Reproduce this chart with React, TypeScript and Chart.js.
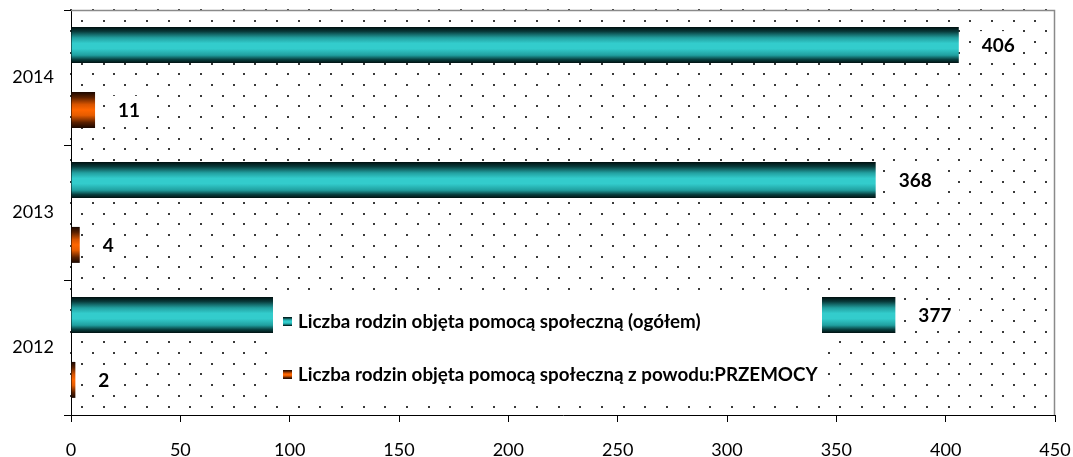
import React, { useEffect, useRef } from 'react';
import { Chart, registerables } from 'chart.js';

Chart.register(...registerables);

const categories = ['2014', '2013', '2012'];
const totalFamilies = [406, 368, 377];
const violenceFamilies = [11, 4, 2];
const seriesLabels = [
  'Liczba rodzin objęta pomocą społeczną (ogółem)',
  'Liczba rodzin objęta pomocą społeczną z powodu:PRZEMOCY',
];
const xMin = 0;
const xMax = 450;
const xStep = 50;

const CAT_PCT = 0.96;
const BAR_PCT = 0.555;
const FONT = 'Lato, "Noto Sans", sans-serif';

const tealStops: [number, string][] = [
  [0, '#001010'],
  [0.12, '#083a3a'],
  [0.3, '#22a0a0'],
  [0.45, '#33cccc'],
  [0.6, '#33cccc'],
  [0.78, '#20a0a0'],
  [0.9, '#084040'],
  [1, '#001010'],
];
const orangeStops: [number, string][] = [
  [0, '#1a0700'],
  [0.15, '#5a2000'],
  [0.35, '#d85400'],
  [0.5, '#ff6600'],
  [0.65, '#e65c00'],
  [0.85, '#5a2000'],
  [1, '#1a0700'],
];

function makeGradient(c: CanvasRenderingContext2D, y0: number, y1: number, stops: [number, string][]) {
  const g = c.createLinearGradient(0, y0, 0, y1);
  stops.forEach(([o, col]) => g.addColorStop(o, col));
  return g;
}

function barFill(stops: [number, string][], fallback: string) {
  return (ctx: any) => {
    const chart = ctx.chart;
    const y = chart.scales && chart.scales.y;
    if (!y || !chart.chartArea || ctx.dataIndex === undefined) return fallback;
    const band = y.getPixelForValue(1) - y.getPixelForValue(0);
    const slot = (band * CAT_PCT) / 2;
    const center = y.getPixelForValue(ctx.dataIndex) + (ctx.datasetIndex - 0.5) * slot;
    const half = (slot * BAR_PCT) / 2;
    return makeGradient(chart.ctx, center - half, center + half, stops);
  };
}

const backgroundPlugin = {
  id: 'dotBackground',
  beforeDraw(chart: any) {
    const { ctx, chartArea } = chart;
    if (!chartArea) return;
    const { left, top, right, bottom } = chartArea;
    ctx.save();
    ctx.fillStyle = '#ffffff';
    ctx.fillRect(left, top, right - left, bottom - top);
    ctx.fillStyle = '#3a3a3a';
    const dx = 21.67;
    const dy = 10.72;
    for (let k = 0; top + k * dy < bottom; k++) {
      const yy = top + k * dy;
      const off = k % 2 === 0 ? 0 : dx / 2;
      for (let x = left + off; x < right; x += dx) {
        ctx.fillRect(Math.round(x) - 1, Math.round(yy) - 1, 2, 2);
      }
    }
    ctx.restore();
  },
  afterDraw(chart: any) {
    const { ctx, chartArea } = chart;
    const { left, top, right, bottom } = chartArea;
    ctx.save();
    ctx.strokeStyle = '#8a8a8a';
    ctx.lineWidth = 1.5;
    ctx.beginPath();
    ctx.moveTo(left, top + 0.5);
    ctx.lineTo(right - 0.5, top + 0.5);
    ctx.lineTo(right - 0.5, bottom);
    ctx.stroke();
    ctx.restore();
  },
};

const labelPlugin = {
  id: 'valueLabels',
  afterDatasetsDraw(chart: any) {
    const ctx = chart.ctx;
    ctx.save();
    ctx.font = `bold 19px ${FONT}`;
    ctx.textBaseline = 'middle';
    ctx.textAlign = 'left';
    chart.data.datasets.forEach((ds: any, di: number) => {
      const meta = chart.getDatasetMeta(di);
      meta.data.forEach((bar: any, i: number) => {
        const text = String(ds.data[i]);
        const x = bar.x + 23;
        const w = ctx.measureText(text).width;
        ctx.fillStyle = '#ffffff';
        ctx.fillRect(x - 8, bar.y - 14, w + 16, 28);
        ctx.fillStyle = '#000000';
        ctx.fillText(text, x, bar.y + 1);
      });
    });
    ctx.restore();
  },
};

const legendPlugin = {
  id: 'boxLegend',
  afterDatasetsDraw(chart: any) {
    const ctx = chart.ctx;
    ctx.save();
    ctx.fillStyle = '#ffffff';
    ctx.fillRect(273, 294, 549, 106);
    ctx.font = `bold 16px ${FONT}`;
    const targetW = 520;
    const mw = ctx.measureText(seriesLabels[1]).width;
    const size = 16 * (targetW / mw);
    ctx.font = `bold ${size.toFixed(2)}px ${FONT}`;
    ctx.textBaseline = 'middle';
    ctx.textAlign = 'left';
    const rows = [
      { y: 322, stops: tealStops, text: seriesLabels[0] },
      { y: 375, stops: orangeStops, text: seriesLabels[1] },
    ];
    rows.forEach((r) => {
      ctx.fillStyle = makeGradient(ctx, r.y - 5, r.y + 4, r.stops);
      ctx.fillRect(283, r.y - 5, 9, 9);
      ctx.fillStyle = '#000000';
      ctx.fillText(r.text, 298, r.y);
    });
    ctx.restore();
  },
};

function zeroPad(s: any) {
  s.paddingTop = 0;
  s.paddingBottom = 0;
  s.paddingLeft = 0;
  s.paddingRight = 0;
}

export default function App() {
  const canvasRef = useRef<HTMLCanvasElement | null>(null);

  useEffect(() => {
    document.body.style.margin = '0';
    const canvas = canvasRef.current;
    if (!canvas) return;
    const chart = new Chart(canvas, {
      type: 'bar',
      data: {
        labels: categories,
        datasets: [
          {
            label: seriesLabels[0],
            data: totalFamilies,
            backgroundColor: barFill(tealStops, '#33cccc'),
            borderWidth: 0,
            categoryPercentage: CAT_PCT,
            barPercentage: BAR_PCT,
          },
          {
            label: seriesLabels[1],
            data: violenceFamilies,
            backgroundColor: barFill(orangeStops, '#ff6600'),
            borderWidth: 0,
            categoryPercentage: CAT_PCT,
            barPercentage: BAR_PCT,
          },
        ],
      },
      options: {
        indexAxis: 'y',
        animation: false,
        responsive: true,
        maintainAspectRatio: false,
        layout: { padding: { left: 0, right: 18, top: 10, bottom: 0 } },
        plugins: {
          legend: { display: false },
          tooltip: { enabled: false },
        },
        scales: {
          x: {
            min: xMin,
            max: xMax,
            ticks: {
              stepSize: xStep,
              color: '#000000',
              font: { family: FONT, size: 18 },
              padding: 17,
            },
            grid: { drawOnChartArea: false, drawTicks: true, tickLength: 7, color: '#000000' },
            border: { color: '#000000', width: 1 },
            afterFit: (s: any) => {
              s.height = 42;
              zeroPad(s);
            },
          },
          y: {
            ticks: {
              color: '#000000',
              font: { family: FONT, size: 18 },
              padding: 10,
            },
            grid: { drawOnChartArea: false, drawTicks: true, tickLength: 7, color: '#000000', offset: true },
            border: { color: '#000000', width: 1 },
            afterFit: (s: any) => {
              s.width = 71;
              zeroPad(s);
            },
          },
        },
      },
      plugins: [backgroundPlugin, labelPlugin, legendPlugin],
    });
    return () => chart.destroy();
  }, []);

  return (
    <div style={{ position: 'relative', width: '1073px', height: '457px' }}>
      <canvas ref={canvasRef} />
    </div>
  );
}
